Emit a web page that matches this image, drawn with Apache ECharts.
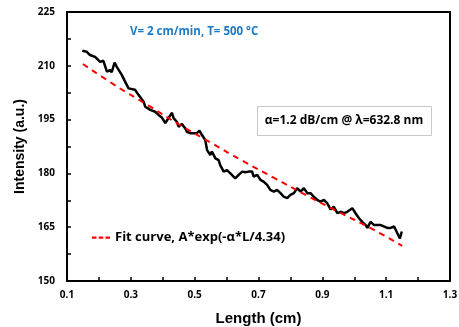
<!DOCTYPE html>
<html>
<head>
<meta charset="utf-8">
<script src="https://cdn.jsdelivr.net/npm/echarts@6/dist/echarts.min.js"></script>
<style>html,body{margin:0;padding:0;background:#fff;}#chart{width:459px;height:327px;}</style>
</head>
<body>
<div id="chart"></div>
<script>
// Measured intensity along the fiber
const measuredLength = [0.148,0.162,0.172,0.188,0.204,0.214,0.225,0.235,0.240,0.249,0.256,0.272,0.282,0.293,0.298,0.313,0.324,0.340,0.345,0.350,0.361,0.376,0.387,0.397,0.402,0.408,0.418,0.429,0.434,0.439,0.444,0.450,0.455,0.460,0.470,0.476,0.486,0.497,0.507,0.515,0.523,0.533,0.539,0.549,0.554,0.565,0.575,0.580,0.591,0.601,0.612,0.617,0.627,0.638,0.649,0.659,0.669,0.680,0.685,0.696,0.706,0.716,0.727,0.737,0.748,0.758,0.769,0.779,0.790,0.800,0.811,0.821,0.832,0.842,0.853,0.863,0.873,0.884,0.894,0.905,0.915,0.926,0.936,0.947,0.957,0.968,0.978,0.983,0.994,1.004,1.015,1.025,1.036,1.041,1.051,1.062,1.072,1.083,1.093,1.104,1.114,1.125,1.135,1.143,1.149];
const measuredIntensity = [214.2,213.9,213.0,212.5,211.1,211.4,208.4,208.8,208.2,210.9,209.7,207.4,205.6,203.7,203.3,203.3,201.9,200.0,198.6,199.1,197.7,197.2,196.3,195.6,195.4,194.0,195.4,196.9,195.4,195.8,194.4,193.0,193.5,193.8,192.6,191.6,191.2,191.2,191.2,191.9,190.7,189.3,186.5,185.1,186.1,184.2,183.7,182.3,180.5,180.9,180.0,180.5,178.6,179.6,180.5,180.3,180.5,180.5,179.1,179.6,178.2,177.7,176.8,175.4,174.9,175.4,174.5,173.5,173.1,174.0,174.5,175.9,174.9,175.9,174.5,174.5,173.5,172.6,172.1,172.6,171.7,170.0,170.7,168.9,169.3,168.9,169.3,168.9,170.3,168.9,167.5,166.5,165.6,164.8,166.5,165.6,165.6,165.6,165.2,164.8,164.8,165.2,163.3,161.9,163.8];
// Fit curve values
const fitLength = [0.15,0.25,0.35,0.45,0.55,0.65,0.75,0.85,0.95,1.05,1.15];
const fitIntensity = [210.5,204.6,199.2,193.7,188.6,183.5,178.7,173.9,169.3,164.8,159.8];
// Axis labels
const xTickLabels = ['0.1','0.3','0.5','0.7','0.9','1.1','1.3'];
const yTickLabels = ['150','165','180','195','210','225'];
const fitName = 'Fit curve, A*exp(-\u03b1*L/4.34)';

const measured = measuredLength.map((l, i) => [l, measuredIntensity[i]]);
const fit = fitLength.map((l, i) => [l, fitIntensity[i]]);
const FONT = '"Open Sans", Lato, sans-serif';

const chart = echarts.init(document.getElementById('chart'));
chart.setOption({
  animation: false,
  backgroundColor: '#fff',
  grid: { left: 67, right: 9, top: 12, bottom: 46, outerBoundsMode: 'none', containLabel: false, show: true, borderColor: '#000', borderWidth: 2, backgroundColor: 'transparent' },
  xAxis: {
    type: 'value', min: 0.1, max: 1.3, interval: 0.1,
    name: 'Length (cm)', nameLocation: 'middle', nameGap: 30,
    nameTextStyle: { fontFamily: 'Liberation Sans, Arial, sans-serif', fontWeight: 'bold', fontSize: 15, color: '#000' },
    axisLine: { lineStyle: { color: '#000', width: 2 } },
    axisTick: { inside: true, length: 4, lineStyle: { color: '#000', width: 1.5 } },
    splitLine: { show: false },
    axisLabel: {
      margin: 9, fontFamily: FONT, fontWeight: 'bold', fontSize: 10, color: '#000',
      formatter: v => { const s = v.toFixed(1); return xTickLabels.includes(s) ? s : ''; }
    }
  },
  yAxis: {
    type: 'value', min: 150, max: 225, interval: 7.5,
    name: 'Intensity (a.u.)', nameLocation: 'middle', nameGap: 37, nameRotate: 90,
    nameTextStyle: { fontFamily: 'Liberation Sans, Arial, sans-serif', fontWeight: 'bold', fontSize: 14, color: '#000' },
    axisLine: { lineStyle: { color: '#000', width: 2 } },
    axisTick: { inside: true, length: 4, lineStyle: { color: '#000', width: 1.5 } },
    splitLine: { show: false },
    axisLabel: {
      margin: 12, fontFamily: FONT, fontWeight: 'bold', fontSize: 10, color: '#000',
      formatter: v => { const s = String(Math.round(v * 10) / 10); return yTickLabels.includes(s) ? s : ''; }
    }
  },
  legend: {
    data: [fitName], left: 87, top: 226, itemWidth: 18, itemHeight: 10, itemGap: 4,
    icon: 'path://M0,0 L4,0 L4,2 L0,2 Z M6,0 L10,0 L10,2 L6,2 Z M12,0 L16,0 L16,2 L12,2 Z',
    textStyle: { fontFamily: FONT, fontWeight: 'bold', fontSize: 13, color: '#000' }
  },
  graphic: [
    { type: 'text', left: 130, top: 26, style: { text: 'V= 2 cm/min, T= 500 \u00b0C', fill: '#1a7cc9', font: 'bold 11.5px ' + FONT } },
    { type: 'rect', shape: { x: 257.5, y: 106.5, width: 174, height: 29 }, style: { fill: '#fff', stroke: '#c8c8c8', lineWidth: 1 } },
    { type: 'text', x: 344, y: 121, style: { text: '\u03b1=1.2 dB/cm @ \u03bb=632.8 nm', fill: '#000', font: 'bold 12px ' + FONT, align: 'center', verticalAlign: 'middle' } }
  ],
  series: [
    { name: 'Measured', type: 'line', data: measured, symbol: 'none', lineStyle: { color: '#000', width: 2.5 }, z: 3 },
    { name: fitName, type: 'line', data: fit, symbol: 'none', smooth: true, itemStyle: { color: '#ff0000' }, lineStyle: { color: '#ff0000', width: 2, type: [6, 5] }, z: 4 }
  ]
});
</script>
</body>
</html>
